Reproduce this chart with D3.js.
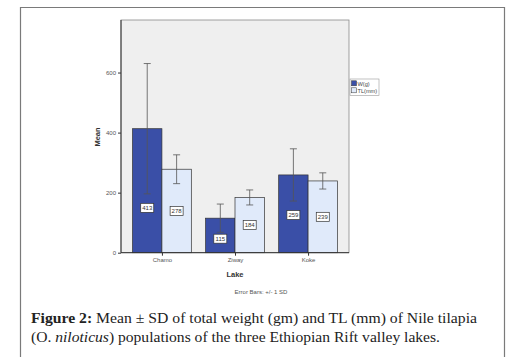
<!DOCTYPE html>
<html>
<head>
<meta charset="utf-8">
<script src="https://cdn.jsdelivr.net/npm/d3@7"></script>
<style>
  body { margin: 0; background: #fff; }
  svg { display: block; }
</style>
</head>
<body>
<div id="chart"></div>
<script>
// data
var lakes = ["Chamo", "Ziway", "Koke"];
var seriesNames = ["W(g)", "TL(mm)"];
var weightMean = [413, 115, 259];
var weightSD = [217, 47, 87];
var lengthMean = [278, 184, 239];
var lengthSD = [48, 25, 27];
var yTicks = [0, 200, 400, 600];

var colors = {"W(g)": "#3a4fa7", "TL(mm)": "#e0eafa"};

var W = 516, H = 357;
var svg = d3.select("#chart").append("svg")
    .attr("width", W).attr("height", H)
    .style("font-family", "Liberation Sans, Arial, sans-serif");

// outer frame of the figure box
svg.append("path")
    .attr("d", "M20.5,357 V7.5 H504.5 V357")
    .attr("fill", "none").attr("stroke", "#7a7a7a").attr("stroke-width", 1.2);

var plot = {left: 121, right: 349, top: 20, bottom: 252.7};

var y = d3.scaleLinear()
    .domain([0, 775])
    .range([plot.bottom, plot.top]);

var x = d3.scalePoint()
    .domain(lakes)
    .range([plot.left, plot.right])
    .padding(0.56);

var barW = 29.4;
var x1 = d3.scaleBand().domain(seriesNames).range([-barW, barW]);

// plot background
svg.append("rect")
    .attr("x", plot.left).attr("y", plot.top)
    .attr("width", plot.right - plot.left).attr("height", plot.bottom - plot.top)
    .attr("fill", "#efefef").attr("stroke", "#8a8a8a").attr("stroke-width", 0.8);

var rows = [];
lakes.forEach(function(l, i) {
  rows.push({lake: l, s: "W(g)", v: weightMean[i], sd: weightSD[i]});
  rows.push({lake: l, s: "TL(mm)", v: lengthMean[i], sd: lengthSD[i]});
});

// bars
svg.selectAll(".bar")
  .data(rows)
  .enter().append("rect")
    .attr("x", function(d) { return x(d.lake) + x1(d.s); })
    .attr("y", function(d) { return y(d.v); })
    .attr("width", x1.bandwidth())
    .attr("height", function(d) { return y(0) - y(d.v); })
    .attr("fill", function(d) { return colors[d.s]; })
    .attr("stroke", "#333").attr("stroke-width", 0.7);

// error bars
var eb = svg.selectAll(".eb").data(rows).enter().append("g")
    .attr("stroke", "#555").attr("stroke-width", 0.8);
eb.append("line")
    .attr("x1", function(d) { return x(d.lake) + x1(d.s) + x1.bandwidth() / 2; })
    .attr("x2", function(d) { return x(d.lake) + x1(d.s) + x1.bandwidth() / 2; })
    .attr("y1", function(d) { return y(d.v + d.sd); })
    .attr("y2", function(d) { return y(d.v - d.sd); });
[1, -1].forEach(function(k) {
  eb.append("line")
    .attr("x1", function(d) { return x(d.lake) + x1(d.s) + x1.bandwidth() / 2 - 3.5; })
    .attr("x2", function(d) { return x(d.lake) + x1(d.s) + x1.bandwidth() / 2 + 3.5; })
    .attr("y1", function(d) { return y(d.v + k * d.sd); })
    .attr("y2", function(d) { return y(d.v + k * d.sd); });
});

// value labels, pushed below the lower whisker when needed
var lab = svg.selectAll(".lab").data(rows).enter().append("g")
    .attr("transform", function(d) {
      var cy = Math.max(y(d.v / 2), y(d.v - d.sd) + 14);
      cy = Math.min(cy, y(0) - 14);
      return "translate(" + (x(d.lake) + x1(d.s) + x1.bandwidth() / 2) + "," + cy + ")";
    });
lab.append("rect")
    .attr("x", -6.5).attr("y", -4.5).attr("width", 13).attr("height", 9)
    .attr("fill", "#fff").attr("stroke", "#333").attr("stroke-width", 0.7);
lab.append("text")
    .attr("text-anchor", "middle").attr("dy", "0.35em")
    .attr("font-size", 6).attr("fill", "#333")
    .text(function(d) { return d.v; });

// Y axis
var yAxis = svg.append("g")
    .attr("transform", "translate(" + plot.left + ",0)")
    .call(d3.axisLeft(y).tickValues(yTicks).tickSize(3).tickPadding(2));
yAxis.select(".domain").attr("stroke", "#333").attr("d", "M0," + plot.top + "V" + plot.bottom);
yAxis.selectAll("line").attr("stroke", "#333");
yAxis.selectAll("text").attr("font-size", 6).attr("fill", "#555").attr("font-family", "Liberation Sans, Arial");

// X axis
var xAxis = svg.append("g")
    .attr("transform", "translate(0," + plot.bottom + ")")
    .call(d3.axisBottom(x).tickSize(3).tickPadding(2));
xAxis.select(".domain").attr("stroke", "#333").attr("d", "M" + plot.left + ",0H" + plot.right);
xAxis.selectAll("line").attr("stroke", "#333");
xAxis.selectAll("text").attr("font-size", 6).attr("fill", "#555").attr("font-family", "Liberation Sans, Arial");

svg.append("text")
    .attr("transform", "translate(99.5,137) rotate(-90)")
    .attr("text-anchor", "middle")
    .attr("font-size", 7.5).attr("font-weight", "bold").attr("fill", "#333")
    .text("Mean");

svg.append("text")
    .attr("x", 235).attr("y", 277)
    .attr("text-anchor", "middle")
    .attr("font-size", 7.5).attr("font-weight", "bold").attr("fill", "#333")
    .text("Lake");

svg.append("text")
    .attr("x", 261).attr("y", 293.5)
    .attr("text-anchor", "middle")
    .attr("font-size", 6).attr("fill", "#555")
    .text("Error Bars: +/- 1 SD");

// legend
var lg = svg.append("g").attr("transform", "translate(350,79)");
lg.append("rect").attr("width", 29).attr("height", 16.5)
    .attr("fill", "#fff").attr("stroke", "#999").attr("stroke-width", 0.6);
seriesNames.forEach(function(s, i) {
  lg.append("rect").attr("x", 1.5).attr("y", 1.8 + i * 7)
    .attr("width", 5).attr("height", 5)
    .attr("fill", colors[s]).attr("stroke", "#333").attr("stroke-width", 0.5);
  lg.append("text").attr("x", 7.5).attr("y", 6.5 + i * 7)
    .attr("font-size", 5.6).attr("fill", "#444").text(s);
});

// caption
var cap = svg.append("g")
    .style("font-family", "Liberation Serif, 'DejaVu Serif', serif")
    .attr("font-size", 15.5).attr("fill", "#222");
var t1 = cap.append("text").attr("x", 31).attr("y", 323).attr("textLength", 446).attr("lengthAdjust", "spacingAndGlyphs");
t1.append("tspan").attr("font-weight", "bold").text("Figure 2:");
t1.append("tspan").text(" Mean \u00b1 SD of total weight (gm) and TL (mm) of Nile tilapia");
var t2 = cap.append("text").attr("x", 31).attr("y", 341.5).attr("textLength", 409).attr("lengthAdjust", "spacingAndGlyphs");
t2.append("tspan").text("(O. ");
t2.append("tspan").attr("font-style", "italic").text("niloticus");
t2.append("tspan").text(") populations of the three Ethiopian Rift valley lakes.");
</script>
</body>
</html>
